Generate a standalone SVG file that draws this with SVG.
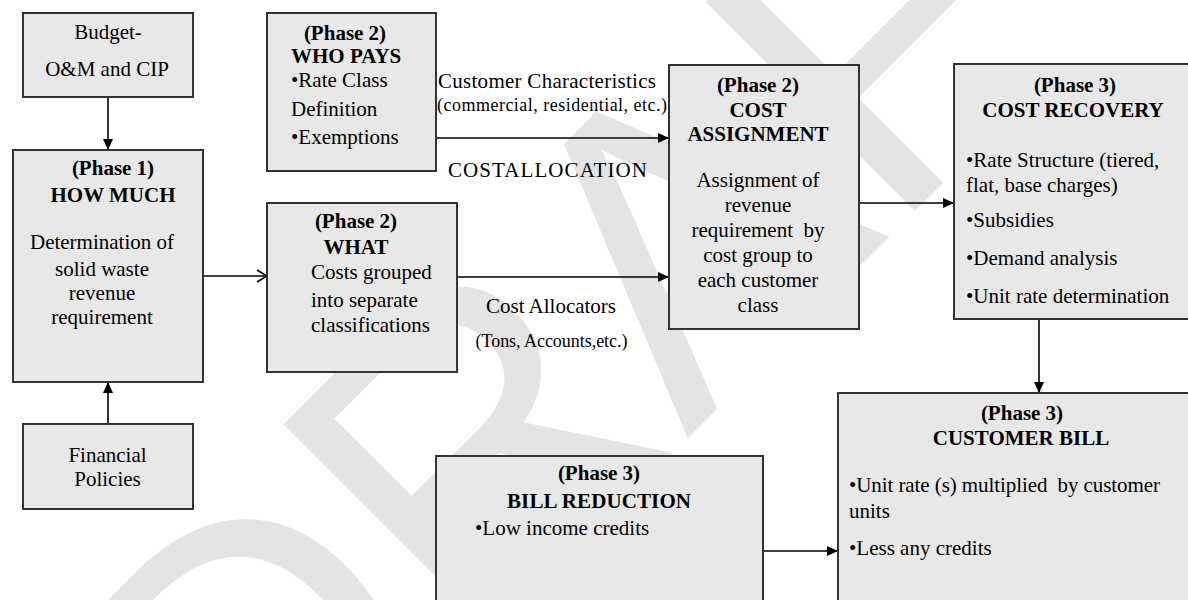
<svg xmlns="http://www.w3.org/2000/svg" width="1188" height="600" viewBox="0 0 1188 600">
<defs>
<style>
.box{fill:#e8e8e8;stroke:#333;stroke-width:2}
.t{font-family:"Liberation Serif","Times New Roman",serif;font-size:21px;fill:#000}
.b{font-weight:bold}
.m{text-anchor:middle}
.s{font-size:18px}
.ln{stroke:#000;stroke-width:1.6;fill:none}
.wm{font-family:"Liberation Sans",Arial,sans-serif;font-size:430px;fill:#e4e4e4}
</style>
<marker id="ah" markerUnits="userSpaceOnUse" markerWidth="11" markerHeight="10" refX="11" refY="5" orient="auto">
<path d="M0,0 L11,5 L0,10 Z" fill="#000"/>
</marker>
<marker id="oh" markerUnits="userSpaceOnUse" markerWidth="12" markerHeight="14" refX="11" refY="7" orient="auto">
<path d="M1,1 L11,7 L1,13" fill="none" stroke="#000" stroke-width="1.6"/>
</marker>
</defs>
<rect width="1188" height="600" fill="#fff"/>
<g id="watermark">
<text class="wm" x="248" y="878" transform="rotate(-45 248 878)">DRAFT</text>
</g>
<g id="connectors">
<line class="ln" x1="108" y1="97" x2="108" y2="150" marker-end="url(#ah)"/>
<line class="ln" x1="108" y1="424" x2="108" y2="382" marker-end="url(#ah)"/>
<line class="ln" x1="203" y1="276" x2="267" y2="276" marker-end="url(#oh)"/>
<line class="ln" x1="436" y1="138" x2="669" y2="138" marker-end="url(#ah)"/>
<line class="ln" x1="457" y1="277" x2="669" y2="277" marker-end="url(#ah)"/>
<line class="ln" x1="859" y1="203" x2="954" y2="203" marker-end="url(#ah)"/>
<line class="ln" x1="1039" y1="319" x2="1039" y2="393" marker-end="url(#ah)"/>
<line class="ln" x1="763" y1="551" x2="838" y2="551" marker-end="url(#ah)"/>
</g>
<g id="labels">
<text class="t" x="438" y="88" textLength="218">Customer Characteristics</text>
<text class="t s" x="437" y="111" textLength="230">(commercial, residential, etc.)</text>
<text class="t" x="448" y="177" textLength="199">COSTALLOCATION</text>
<text class="t m" x="551" y="313">Cost Allocators</text>
<text class="t s m" x="551.5" y="347" textLength="152">(Tons, Accounts,etc.)</text>
</g>
<g id="budget">
<rect class="box" x="23" y="13" width="170" height="84"/>
<text class="t m" x="108" y="39">Budget-</text>
<text class="t m" x="107" y="76">O&amp;M and CIP</text>
</g>
<g id="how-much">
<rect class="box" x="13" y="150" width="190" height="232"/>
<text class="t b m" x="113" y="175">(Phase 1)</text>
<text class="t b m" x="113" y="202">HOW MUCH</text>
<text class="t m" x="102" y="249">Determination of</text>
<text class="t m" x="102" y="276">solid waste</text>
<text class="t m" x="102" y="300">revenue</text>
<text class="t m" x="102" y="324">requirement</text>
</g>
<g id="financial">
<rect class="box" x="23" y="424" width="170" height="85"/>
<text class="t m" x="107.5" y="462">Financial</text>
<text class="t m" x="107.5" y="486">Policies</text>
</g>
<g id="who-pays">
<rect class="box" x="267" y="13" width="169" height="158"/>
<text class="t b m" x="345" y="40">(Phase 2)</text>
<text class="t b" x="291" y="63">WHO PAYS</text>
<text class="t" x="291" y="87">•Rate Class</text>
<text class="t" x="291" y="116">Definition</text>
<text class="t" x="291" y="144">•Exemptions</text>
</g>
<g id="what">
<rect class="box" x="267" y="203" width="190" height="169"/>
<text class="t b m" x="356" y="228">(Phase 2)</text>
<text class="t b m" x="356" y="254">WHAT</text>
<text class="t" x="311" y="279">Costs grouped</text>
<text class="t" x="311" y="307">into separate</text>
<text class="t" x="311" y="332">classifications</text>
</g>
<g id="cost-assignment">
<rect class="box" x="669" y="65" width="190" height="264"/>
<text class="t b m" x="758" y="92">(Phase 2)</text>
<text class="t b m" x="758" y="117">COST</text>
<text class="t b m" x="758" y="141">ASSIGNMENT</text>
<text class="t m" x="758" y="187">Assignment of</text>
<text class="t m" x="758" y="212">revenue</text>
<text class="t m" x="758" y="237" xml:space="preserve">requirement  by</text>
<text class="t m" x="758" y="262">cost group to</text>
<text class="t m" x="758" y="287">each customer</text>
<text class="t m" x="758" y="312">class</text>
</g>
<g id="cost-recovery">
<rect class="box" x="954" y="64" width="240" height="255"/>
<text class="t b m" x="1075" y="92">(Phase 3)</text>
<text class="t b m" x="1073" y="117">COST RECOVERY</text>
<text class="t" x="966" y="167">•Rate Structure (tiered,</text>
<text class="t" x="966" y="192">flat, base charges)</text>
<text class="t" x="966" y="227">•Subsidies</text>
<text class="t" x="966" y="265">•Demand analysis</text>
<text class="t" x="966" y="303">•Unit rate determination</text>
</g>
<g id="customer-bill">
<rect class="box" x="838" y="393" width="356" height="220"/>
<text class="t b m" x="1022" y="420">(Phase 3)</text>
<text class="t b m" x="1021" y="445">CUSTOMER BILL</text>
<text class="t" x="849" y="492" textLength="311" xml:space="preserve">•Unit rate (s) multiplied  by customer</text>
<text class="t" x="849" y="518">units</text>
<text class="t" x="849" y="555">•Less any credits</text>
</g>
<g id="bill-reduction">
<rect class="box" x="436" y="456" width="327" height="160"/>
<text class="t b m" x="599" y="480">(Phase 3)</text>
<text class="t b m" x="599" y="508" textLength="184">BILL REDUCTION</text>
<text class="t" x="475" y="535">•Low income credits</text>
</g>
</svg>
